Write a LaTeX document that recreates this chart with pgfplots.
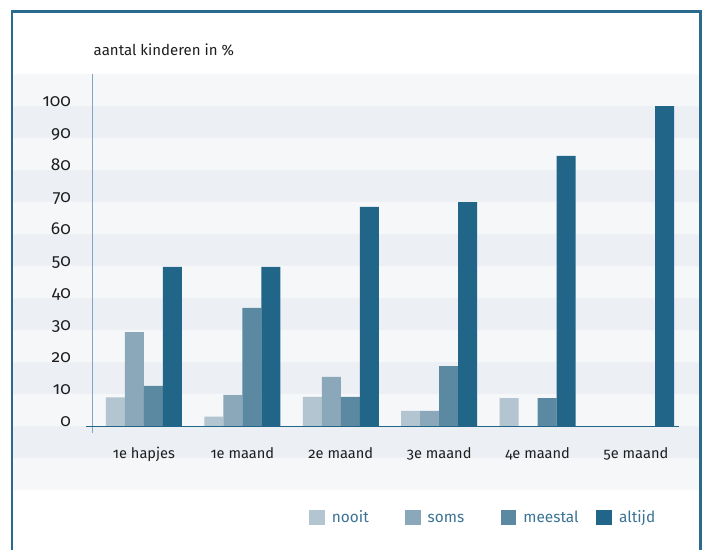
\documentclass[border=0pt]{standalone}
\usepackage{fontspec}
\setmainfont{Fira Sans}[Numbers=OldStyle]
\usepackage{pgfplots}
\pgfplotsset{compat=1.18}
\definecolor{cnooit}{HTML}{B3C5D1}
\definecolor{csoms}{HTML}{8BA8BA}
\definecolor{cmeestal}{HTML}{5B89A2}
\definecolor{caltijd}{HTML}{216688}
\definecolor{framecol}{HTML}{2A6A8C}
\definecolor{stripeL}{HTML}{F5F7F9}
\definecolor{stripeD}{HTML}{ECF0F5}
\definecolor{ycol}{HTML}{7FA7C3}
\definecolor{tickcol}{HTML}{1E1E1E}
\definecolor{legcol}{HTML}{3A7394}
\pgfplotsset{sqleg/.style={legend image code/.code={\fill[##1] (0pt,-6.35pt) rectangle (15.7pt,9.35pt);}}}
\begin{document}
\begin{tikzpicture}[x=1pt,y=1pt]
\useasboundingbox (0,0) rectangle (707,549);
\foreach \k in {-2,0,2,4,6,8,10} \fill[stripeL] (13,{122.73+32.025*\k}) rectangle (699,{122.73+32.025*(\k+1)});
\foreach \k in {-1,1,3,5,7,9} \fill[stripeD] (13,{122.73+32.025*\k}) rectangle (699,{122.73+32.025*(\k+1)});
\draw[framecol, line width=2.2pt] (12,-5) -- (12,537.5) -- (700.5,537.5) -- (700.5,-5);
\node[anchor=base west, font=\fontsize{15}{18}\selectfont, text=tickcol, inner sep=0pt] at (93.5,493) {aantal kinderen in \%};
\begin{axis}[
  at={(92.7pt,116pt)}, anchor=south west,
  scale only axis, width=586.3pt, height=359pt,
  xmin=-0.521, xmax=5.437, ymin=-2.1, ymax=110,
  ybar=0pt, bar width=19pt,
  axis line style={draw=none},
  major tick length=0pt,
  xtick={0,1,2,3,4,5},
  xticklabels={1e hapjes,1e maand,2e maand,3e maand,4e maand,5e maand},
  ytick={0,10,...,100},
  /pgf/number format/assume math mode=true,
  yticklabel style={anchor=base east, inner sep=0pt, xshift=-21.7pt, font=\fontsize{17.3}{20}\selectfont, text=tickcol},
  xticklabel style={anchor=base, inner sep=0pt, yshift=-26pt, font=\fontsize{14.6}{17}\selectfont, text=tickcol},
  clip=false,
  legend columns=4,
  legend style={at={(0.369,-0.2368)}, anchor=west, draw=none, fill=none, inner sep=0pt,
    font=\fontsize{15.4}{18}\selectfont, text=legcol,
    nodes={inner sep=0pt, text width=60pt, align=left, text height=11pt, text depth=3.5pt},
    /tikz/every odd column/.append style={column sep=7pt},
    /tikz/every even column/.append style={column sep=13pt}},
]
\addplot[fill=cnooit, draw=none, sqleg] coordinates {(0,9) (1,3) (2,9.2) (3,4.8) (4,8.8) (5,0)};
\addplot[fill=csoms, draw=none, sqleg] coordinates {(0,29.4) (1,9.8) (2,15.4) (3,4.8) (4,0) (5,0)};
\addplot[fill=cmeestal, draw=none, sqleg] coordinates {(0,12.6) (1,37) (2,9.2) (3,18.8) (4,8.8) (5,0)};
\addplot[fill=caltijd, draw=none, sqleg] coordinates {(0,49.8) (1,49.8) (2,68.5) (3,70) (4,84.4) (5,100)};
\legend{nooit,soms,meestal,altijd}
\draw[ycol, line width=0.9pt] (rel axis cs:0,0) -- (rel axis cs:0,1);
\draw[caltijd, line width=1pt] (axis cs:-0.589,0) -- (axis cs:5.437,0);
\end{axis}
\end{tikzpicture}
\end{document}
